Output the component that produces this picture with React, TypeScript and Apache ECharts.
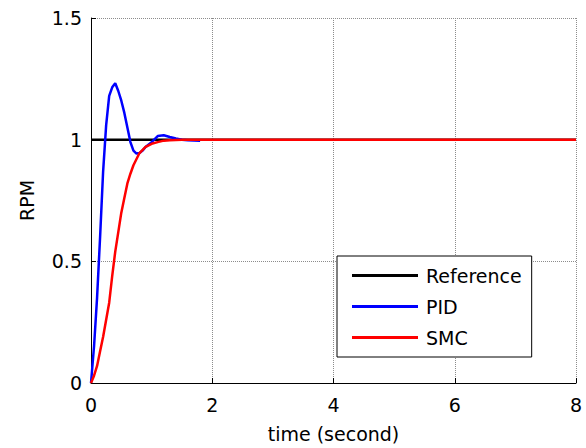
import React, { useEffect, useRef } from "react";
import * as echarts from "echarts";

const refT = [0, 8];
const refY = [1, 1];

const pidT = [0, 0.05, 0.1, 0.13, 0.15, 0.2, 0.25, 0.3, 0.35, 0.4, 0.45, 0.5, 0.55, 0.6, 0.65, 0.7, 0.75, 0.8, 0.85, 0.9, 1.0, 1.1, 1.2, 1.3, 1.4, 1.5, 1.6, 1.7, 1.8];
const pidY = [0, 0.15, 0.35, 0.5, 0.6, 0.87, 1.06, 1.18, 1.215, 1.232, 1.2, 1.16, 1.11, 1.05, 0.99, 0.955, 0.943, 0.945, 0.955, 0.97, 0.99, 1.015, 1.018, 1.011, 1.005, 1.0, 0.998, 0.997, 0.996];

const smcT = [0, 0.05, 0.1, 0.15, 0.2, 0.25, 0.3, 0.35, 0.4, 0.45, 0.5, 0.55, 0.6, 0.65, 0.7, 0.8, 0.9, 1.0, 1.1, 1.2, 1.3, 1.5, 8];
const smcY = [0, 0.03, 0.07, 0.13, 0.19, 0.26, 0.33, 0.44, 0.54, 0.62, 0.7, 0.76, 0.82, 0.86, 0.895, 0.945, 0.97, 0.983, 0.99, 0.996, 0.998, 1.0, 1.0];

const xTicks = { min: 0, max: 8, interval: 2 };
const yTicks = { min: 0, max: 1.5, interval: 0.5 };

const FONT = "DejaVu Sans";

function zip(t: number[], y: number[]) {
  return t.map((v, i) => [v, y[i]]);
}

export default function App() {
  const ref = useRef<HTMLDivElement>(null);
  useEffect(() => {
    if (!ref.current) return;
    const chart = echarts.init(ref.current, undefined, { renderer: "svg" });
    const gridLine = { show: true, lineStyle: { color: "#8c8c8c", type: [1, 1] as any, width: 1 } };
    chart.setOption({
      animation: false,
      backgroundColor: "#ffffff",
      textStyle: { fontFamily: FONT },
      grid: { left: 91, right: 10, top: 18, bottom: 61 },
      legend: {
        orient: "vertical",
        left: 337,
        top: 256,
        padding: [10, 10, 10, 15],
        borderColor: "#000",
        borderWidth: 1,
        backgroundColor: "#fff",
        itemGap: 12,
        itemWidth: 66,
        itemHeight: 3,
        icon: "rect",
        textStyle: { fontFamily: FONT, fontSize: 19, color: "#000", padding: [0, 0, 0, 3] },
        data: ["Reference", "PID", "SMC"],
      },
      xAxis: {
        type: "value",
        min: xTicks.min,
        max: xTicks.max,
        interval: xTicks.interval,
        name: "time (second)",
        nameLocation: "middle",
        nameGap: 41,
        nameTextStyle: { fontFamily: FONT, fontSize: 19, color: "#000" },
        axisLine: { show: true, onZero: false, lineStyle: { color: "#000", width: 1 } },
        axisTick: { show: true, inside: true, length: 5, lineStyle: { color: "#000" } },
        axisLabel: { fontFamily: FONT, fontSize: 19, color: "#000", margin: 12 },
        splitLine: gridLine,
      },
      yAxis: {
        type: "value",
        min: yTicks.min,
        max: yTicks.max,
        interval: yTicks.interval,
        name: "RPM",
        nameLocation: "middle",
        nameGap: 55,
        nameTextStyle: { fontFamily: FONT, fontSize: 19, color: "#000" },
        axisLine: { show: true, onZero: false, lineStyle: { color: "#000", width: 1 } },
        axisTick: { show: true, inside: true, length: 5, lineStyle: { color: "#000" } },
        axisLabel: { fontFamily: FONT, fontSize: 19, color: "#000", margin: 9 },
        splitLine: gridLine,
      },
      series: [
        {
          name: "Reference",
          type: "line",
          data: zip(refT, refY),
          symbol: "none",
          color: "#000000",
          lineStyle: { color: "#000000", width: 2.5 },
        },
        {
          name: "PID",
          type: "line",
          data: zip(pidT, pidY),
          symbol: "none",
          color: "#0000ff",
          lineStyle: { color: "#0000ff", width: 2.5 },
        },
        {
          name: "SMC",
          type: "line",
          data: zip(smcT, smcY),
          symbol: "none",
          color: "#ff0000",
          lineStyle: { color: "#ff0000", width: 2.5 },
        },
      ],
    });
    return () => chart.dispose();
  }, []);
  return <div ref={ref} style={{ width: 586, height: 448, position: "absolute", left: 0, top: 0 }} />;
}
